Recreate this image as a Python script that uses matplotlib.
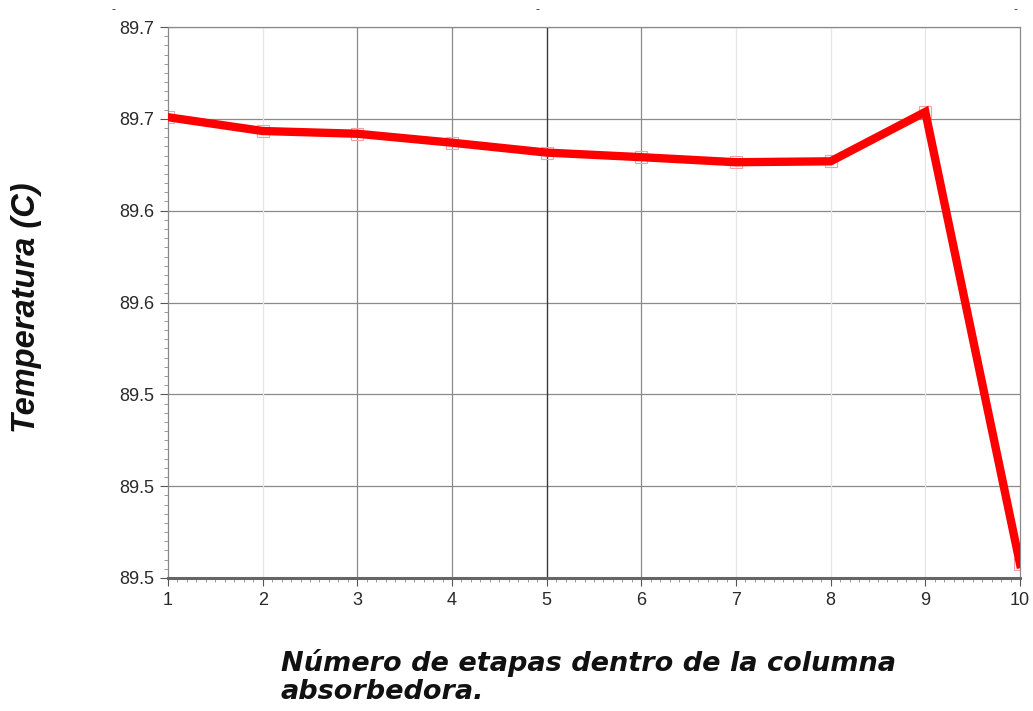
import matplotlib
matplotlib.use("Agg")
import matplotlib.pyplot as plt
from matplotlib.ticker import AutoMinorLocator, FixedLocator

# Temperature profile along the absorber column stages
stages = [1, 2, 3, 4, 5, 6, 7, 8, 9, 10]
temperature = [89.6607, 89.6547, 89.6535, 89.6496, 89.6453,
               89.6433, 89.6411, 89.6415, 89.6630, 89.4661]

y_ticks = [89.46, 89.50, 89.54, 89.58, 89.62, 89.66, 89.70]
y_tick_labels = ["89.5", "89.5", "89.5", "89.6", "89.6", "89.7", "89.7"]
x_ticks = [1, 2, 3, 4, 5, 6, 7, 8, 9, 10]

W, H = 1033, 711
fig = plt.figure(figsize=(W / 100, H / 100), dpi=100)
plt.rcParams["font.family"] = ["Liberation Sans", "DejaVu Sans"]

ax = fig.add_axes([168 / W, 1 - 578 / H, (1020 - 168) / W, (578 - 27) / H])
ax.set_xlim(1, 10)
ax.set_ylim(89.46, 89.70)

# grid: horizontal at every major tick, vertical with varying weight
for yv in y_ticks:
    ax.axhline(yv, color="#8a8a8a", lw=0.9, zorder=1)
grid_style = {2: ("#e6e6e6", 0.9), 3: ("#8a8a8a", 0.9), 4: ("#8a8a8a", 0.9),
              5: ("#3a3a3a", 1.0), 6: ("#8a8a8a", 0.9), 7: ("#e6e6e6", 0.9),
              8: ("#e6e6e6", 0.9), 9: ("#e6e6e6", 0.9)}
for xv, (c, w) in grid_style.items():
    ax.axvline(xv, color=c, lw=w, zorder=1)

ax.plot(stages, temperature, color="#ff0000", lw=6, solid_joinstyle="miter",
        zorder=3)
ax.plot(stages, temperature, ls="none", marker="s", ms=9, mfc="none",
        mec="#f4a0a0", mew=0.8, zorder=2)

ax.xaxis.set_major_locator(FixedLocator(x_ticks))
ax.set_xticklabels([str(v) for v in x_ticks])
ax.yaxis.set_major_locator(FixedLocator(y_ticks))
ax.set_yticklabels(y_tick_labels)
ax.xaxis.set_minor_locator(AutoMinorLocator(10))
ax.yaxis.set_minor_locator(AutoMinorLocator(10))

ax.tick_params(axis="both", which="major", direction="out", length=6,
               width=0.8, color="#555555", labelsize=13, pad=4,
               labelcolor="#2a2a2a")
ax.tick_params(axis="both", which="minor", direction="out", length=3,
               width=0.6, color="#888888")

for s in ["top", "right", "left"]:
    ax.spines[s].set_color("#8a8a8a")
    ax.spines[s].set_linewidth(0.9)
ax.spines["bottom"].set_color("#666666")
ax.spines["bottom"].set_linewidth(2.2)

fig.text(27 / W, 1 - 308 / H, "Temperatura (C)", rotation=90,
         fontsize=23.5, fontweight="bold", fontstyle="italic",
         ha="center", va="center", color="#111111")
fig.text(281 / W, 1 - 649 / H, "Número de etapas dentro de la columna\nabsorbedora.",
         fontsize=19.5, fontweight="bold", fontstyle="italic",
         family=["DejaVu Sans"], ha="left", va="top", linespacing=1.12,
         color="#111111")

for xp in (113, 537, 1015):
    fig.text(xp / W, 1 - 10 / H, "-", fontsize=9, ha="center", va="center",
             color="#333333")

fig.savefig("out.png", dpi=100, facecolor="white")
